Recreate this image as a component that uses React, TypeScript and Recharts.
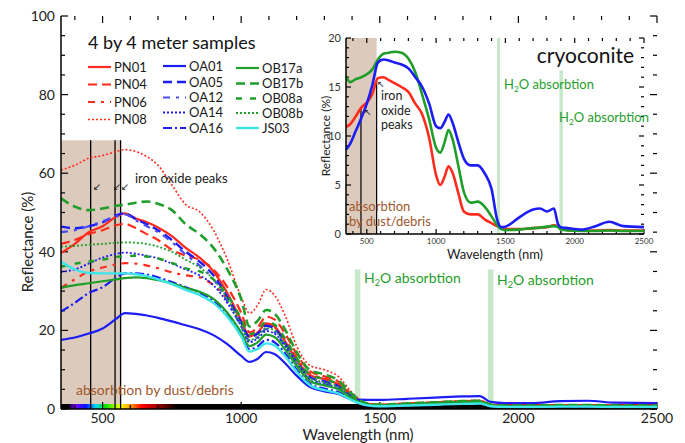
import React from "react"
import { LineChart, Line, XAxis, YAxis, ReferenceArea, ReferenceLine } from "recharts"

// wavelengths (nm) used for the 4x4 m sample spectra
const WL = [350, 400, 450, 500, 550, 580, 620, 660, 700, 750, 800, 850, 900, 950, 1000, 1030, 1060, 1090, 1120, 1160, 1200, 1250, 1300, 1350, 1400, 1450, 1500, 1600, 1700, 1800, 1860, 1900, 1950, 2050, 2150, 2250, 2350, 2500]

const PN01 = [39.7, 42, 45, 46.5, 49, 49.8, 48.5, 47.5, 46.2, 44, 41, 38.5, 35, 29.5, 22.5, 18.5, 19.5, 21.8, 21, 17, 12.5, 8.5, 7.6, 6.3, 3.2, 1.3, 1.0, 1.2, 1.5, 1.8, 1.9, 1.0, 0.8, 0.8, 0.9, 0.9, 0.8, 0.8]
const PN04 = [42, 43, 44.5, 45.5, 46.8, 47.1, 46, 44.5, 43, 40.5, 39, 38, 35.5, 31, 24.5, 19.5, 20.8, 23.5, 22.8, 19, 14, 9.5, 8.3, 7, 3.6, 1.4, 1.1, 1.4, 1.7, 2.0, 2.1, 1.1, 0.9, 0.9, 1.0, 1.0, 0.9, 0.9]
const PN06 = [30.8, 33, 35, 36, 36.8, 37.1, 37, 36.5, 35.8, 34.8, 34, 33.5, 31.5, 28, 22.5, 18.5, 19.5, 21.5, 20.8, 17.5, 13, 8.8, 7.8, 6.5, 3.4, 1.3, 1.0, 1.3, 1.6, 1.9, 2.0, 1.0, 0.8, 0.8, 0.9, 0.9, 0.8, 0.8]
const PN08 = [60.8, 62, 63.8, 64.5, 65.5, 66, 65.5, 64.2, 62, 57, 52, 50.2, 45.5, 38, 28.5, 24.4, 26.5, 30.4, 29, 23.5, 16, 11, 10, 8.3, 4.2, 1.6, 1.2, 1.5, 1.8, 2.1, 2.2, 1.2, 1.0, 1.0, 1.0, 1.0, 0.9, 0.9]
const OA01 = [17.6, 18.2, 19.2, 20.5, 23, 24.4, 24.2, 23.8, 23.2, 22.3, 21.3, 20.3, 18.8, 16.5, 13.5, 12.0, 12.8, 14.5, 14, 11.5, 8.5, 5.5, 4.5, 3.8, 2.5, 2.3, 2.3, 2.6, 2.9, 3.2, 3.3, 1.8, 1.5, 1.5, 2.0, 2.1, 1.6, 1.5]
const OA05 = [46.4, 46, 46.5, 47.5, 49.3, 49.8, 48.3, 47, 45.5, 43, 40, 37.5, 34, 28.5, 22, 18.3, 19.2, 21.2, 20.5, 16.5, 12, 8, 7, 5.8, 3, 1.2, 0.9, 1.1, 1.4, 1.7, 1.8, 0.9, 0.7, 0.7, 0.8, 0.8, 0.7, 0.7]
const OA12 = [45, 45.5, 46.5, 47.8, 49, 49.5, 48, 46.5, 45, 42.5, 39.3, 36.5, 33, 27.5, 21, 17.5, 18.3, 20.3, 19.6, 15.8, 11.5, 7.5, 6.5, 5.4, 2.8, 1.1, 0.8, 1.0, 1.3, 1.6, 1.7, 0.8, 0.6, 0.6, 0.7, 0.7, 0.6, 0.6]
const OA14 = [34.9, 35.5, 37, 38.5, 39.5, 39.8, 39.5, 39, 38.3, 37, 35.5, 34, 31.5, 27, 21, 17, 18, 19.8, 19.2, 15.8, 11.5, 7.3, 6.3, 5.2, 2.8, 1.1, 0.8, 1.0, 1.3, 1.6, 1.7, 0.8, 0.6, 0.6, 0.7, 0.7, 0.6, 0.6]
const OA16 = [24.8, 27, 29.5, 31, 33.5, 34.5, 34.5, 34.2, 33.5, 32.3, 31, 29.5, 27.5, 24, 19, 15.2, 16, 17.6, 17, 14, 10, 6.3, 5.2, 4.3, 2.3, 1.0, 0.7, 0.9, 1.2, 1.5, 1.6, 0.7, 0.5, 0.5, 0.6, 0.6, 0.5, 0.5]
const OB17a = [30.8, 31.5, 32, 32.5, 33, 33.3, 33.5, 33.3, 32.8, 32, 30.8, 29.8, 28, 24.5, 19.5, 16, 17, 18.9, 18.3, 15, 11, 7, 6, 5, 2.6, 1.1, 0.9, 1.2, 1.5, 1.8, 1.9, 0.9, 0.7, 0.7, 0.8, 0.8, 0.7, 0.7]
const OB17b = [53.6, 51.5, 50.6, 51, 51.7, 52, 52.5, 52.8, 52.2, 50.6, 47, 44.5, 41, 35.5, 28, 21, 22.5, 25.2, 24.3, 20, 14.5, 9.8, 8.8, 7.3, 3.8, 1.5, 1.1, 1.4, 1.7, 2.0, 2.1, 1.1, 0.9, 0.9, 1.0, 1.0, 0.9, 0.9]
const OB08a = [36.2, 37, 37.5, 38, 38.7, 38.9, 39, 38.8, 38.3, 37.2, 35.8, 35, 33, 29, 23, 19, 20, 22.2, 21.5, 17.8, 13, 8.7, 7.6, 6.3, 3.3, 1.3, 1.0, 1.3, 1.6, 1.9, 2.0, 1.0, 0.8, 0.8, 0.9, 0.9, 0.8, 0.8]
const OB08b = [41.3, 41.5, 41.8, 42, 42.3, 42.4, 42.3, 42, 41.3, 40, 38, 36, 33, 28, 21.5, 17.5, 18.5, 20.6, 20, 16.3, 12, 7.8, 6.8, 5.6, 2.9, 1.2, 0.9, 1.2, 1.5, 1.8, 1.9, 0.9, 0.7, 0.7, 0.8, 0.8, 0.7, 0.7]
const JS03 = [37.5, 35.5, 34.6, 34.5, 34.5, 34.5, 34.3, 33.8, 33, 31.8, 30.3, 29, 27, 23.5, 18.5, 14.6, 15.3, 16.7, 16.2, 13.3, 9.5, 6, 4.8, 4, 2.2, 1.0, 0.7, 0.9, 1.1, 1.3, 1.4, 0.7, 0.5, 0.5, 0.6, 0.6, 0.5, 0.5]

// cryoconite inset
const IWL = [350, 380, 420, 460, 500, 540, 580, 620, 660, 700, 750, 800, 850, 900, 950, 1000, 1030, 1060, 1090, 1120, 1160, 1200, 1250, 1300, 1350, 1400, 1440, 1470, 1500, 1600, 1700, 1750, 1800, 1850, 1880, 1900, 1950, 2050, 2150, 2250, 2350, 2500]
const CRYO_RED = [10.9, 11.2, 12.0, 12.9, 13.4, 14.3, 15.9, 16.0, 15.7, 15.4, 15.0, 14.5, 13.3, 12.2, 9.8, 6.0, 5.0, 5.8, 6.9, 6.2, 4.2, 2.3, 2.0, 2.0, 1.5, 1.1, 0.8, 0.6, 0.5, 0.5, 0.6, 0.65, 0.7, 0.9, 0.8, 0.5, 0.4, 0.35, 0.35, 0.4, 0.35, 0.35]
const CRYO_GREEN = [16.1, 15.5, 15.8, 16.0, 16.3, 16.8, 17.8, 18.4, 18.5, 18.6, 18.5, 17.9, 16.5, 14.2, 11.7, 8.8, 8.3, 9.3, 10.6, 9.6, 7.0, 4.3, 3.2, 3.3, 2.8, 1.8, 0.9, 0.5, 0.4, 0.45, 0.6, 0.65, 0.75, 0.8, 0.7, 0.45, 0.35, 0.3, 0.3, 0.35, 0.3, 0.3]
const CRYO_BLUE = [8.6, 9.2, 10.5, 11.8, 13.3, 15.2, 17.5, 17.8, 17.7, 17.5, 17.3, 16.9, 16.0, 15.0, 13.3, 11.0, 10.8, 11.4, 12.2, 11.3, 9.4, 7.7, 7.0, 7.0, 6.2, 4.6, 1.5, 0.7, 0.75, 1.7, 2.5, 2.6, 2.3, 2.6, 1.0, 0.7, 0.6, 0.45, 0.8, 1.25, 0.8, 0.7]

const X_TICKS = [400, 500, 600, 700, 800, 900, 1000, 1100, 1200, 1300, 1400, 1500, 1600, 1700, 1800, 1900, 2000, 2100, 2200, 2300, 2400, 2500]
const MAIN_Y_TICKS = [0, 5, 10, 15, 20, 25, 30, 35, 40, 45, 50, 55, 60, 65, 70, 75, 80, 85, 90, 95, 100]
const INSET_Y_TICKS = [0, 1, 2, 3, 4, 5, 6, 7, 8, 9, 10, 11, 12, 13, 14, 15, 16, 17, 18, 19, 20]

const FONT = "Lato, 'Open Sans', sans-serif"
const RED = "#ff2b1c"
const BLUE = "#1c1cf5"
const LBLUE = "#4d4df7"
const GREEN = "#1f9e2a"
const CYAN = "#3ee6ea"
const BROWN = "#dccbbd"
const H2O = "#c8e8cc"
const TXT_BROWN = "#a0582c"

const SERIES = [
  { key: "PN01", values: PN01, color: RED, dash: undefined, w: 2.2 },
  { key: "PN04", values: PN04, color: RED, dash: "9 5", w: 2.2 },
  { key: "PN06", values: PN06, color: RED, dash: "7 6 3 6", w: 2.2 },
  { key: "PN08", values: PN08, color: RED, dash: "2 2", w: 1.6 },
  { key: "OA01", values: OA01, color: BLUE, dash: undefined, w: 2.2 },
  { key: "OA05", values: OA05, color: BLUE, dash: "9 5", w: 2.4 },
  { key: "OA12", values: OA12, color: LBLUE, dash: "7 6 3 6", w: 2.2 },
  { key: "OA14", values: OA14, color: BLUE, dash: "2 2", w: 1.8 },
  { key: "OA16", values: OA16, color: BLUE, dash: "9 3 2 3", w: 2.2 },
  { key: "OB17a", values: OB17a, color: GREEN, dash: undefined, w: 2.2 },
  { key: "OB17b", values: OB17b, color: GREEN, dash: "9 5", w: 2.6 },
  { key: "OB08a", values: OB08a, color: GREEN, dash: "6 8", w: 2.4 },
  { key: "OB08b", values: OB08b, color: GREEN, dash: "2 2", w: 1.8 },
  { key: "JS03", values: JS03, color: CYAN, dash: undefined, w: 2.4 },
]

const mainData = WL.map((w, i) => {
  const row: Record<string, number> = { w }
  SERIES.forEach((s) => (row[s.key] = s.values[i]))
  return row
})

const insetData = IWL.map((w, i) => ({ w, red: CRYO_RED[i], green: CRYO_GREEN[i], blue: CRYO_BLUE[i] }))

const fmt500 = (v: number) => (v % 500 === 0 ? String(v) : "")
const fmt20 = (v: number) => (v % 20 === 0 ? String(v) : "")
const fmt5 = (v: number) => (v % 5 === 0 ? String(v) : "")

const axisLine = { stroke: "#000", strokeWidth: 1.5 }

// inward tick marks drawn as short segments in data units
// k: px->data factors for x and y, [x0,x1] and [y0,y1] are the domains
function frameTicks(id: string, xa: string, ya: string, xt: number[], yt: number[], xd: number[], yd: number[],
  kx: number, ky: number, majX: (v: number) => boolean, majY: (v: number) => boolean, big: number, small: number) {
  const segs: { x1: number; y1: number; x2: number; y2: number }[] = []
  yt.forEach((v) => {
    const l = (majY(v) ? big : small) * kx
    segs.push({ x1: xd[0], y1: v, x2: xd[0] + l, y2: v })
    segs.push({ x1: xd[1], y1: v, x2: xd[1] - l, y2: v })
  })
  xt.forEach((v) => {
    const l = (majX(v) ? big : small) * ky
    segs.push({ x1: v, y1: yd[0], x2: v, y2: yd[0] + l })
    segs.push({ x1: v, y1: yd[1], x2: v, y2: yd[1] - l })
  })
  return segs.map((s, i) => (
    <ReferenceLine key={id + i} xAxisId={xa} yAxisId={ya} segment={[{ x: s.x1, y: s.y1 }, { x: s.x2, y: s.y2 }]}
      stroke="#000" strokeWidth={1.2} ifOverflow="visible" />
  ))
}

const by500 = (v: number) => v % 500 === 0
const by20 = (v: number) => v % 20 === 0
const by5 = (v: number) => v % 5 === 0

function H2OLabel({ x, y, size }: { x: number; y: number; size: number }) {
  return (
    <text x={x} y={y} fill={GREEN} fontSize={size} fontFamily={FONT}>
      H<tspan dy={3} fontSize={size * 0.65}>2</tspan>
      <tspan dy={-3}>O absorbtion</tspan>
    </text>
  )
}

function LegendCol({ items, x, rows }: { items: typeof SERIES; x: number; rows: number[] }) {
  return (
    <g>
      {items.map((s, i) => (
        <g key={s.key}>
          <line x1={x} x2={x + 23} y1={rows[i]} y2={rows[i]} stroke={s.color} strokeWidth={s.w} strokeDasharray={s.dash} />
          <text x={x + 26} y={rows[i] + 4.5} fontSize={13} fontFamily={FONT} fill="#1a1a1a">
            {s.key}
          </text>
        </g>
      ))}
    </g>
  )
}

function Overlay() {
  return (
    <svg width={685} height={443} style={{ position: "absolute", left: 0, top: 0, pointerEvents: "none" }}>
      <text x={88} y={49} fontSize={18} fontFamily={FONT} fill="#111">4 by 4 meter samples</text>
      <LegendCol items={SERIES.slice(0, 4)} x={88} rows={[67, 84.5, 102, 119.5]} />
      <LegendCol items={SERIES.slice(4, 9)} x={163} rows={[66, 82, 97.5, 112.5, 128]} />
      <LegendCol items={SERIES.slice(9, 14)} x={236} rows={[68, 83.5, 98.5, 113, 128]} />

      <text transform="translate(33,242) rotate(-90)" textAnchor="middle" fontSize={15} fontFamily={FONT} fill="#222">Reflectance (%)</text>
      <text x={358} y={440} textAnchor="middle" fontSize={15} fontFamily={FONT} fill="#222">Wavelength (nm)</text>

      <text x={135} y={183} fontSize={13} fontFamily={FONT} fill="#222">iron oxide peaks</text>
      <text x={93} y={190} fontSize={10} fontFamily="DejaVu Sans" fill="#111">↙</text>
      <text x={113} y={190} fontSize={10} fontFamily="DejaVu Sans" fill="#111">↙</text>
      <text x={121} y={190} fontSize={10} fontFamily="DejaVu Sans" fill="#111">↙</text>
      <text x={76} y={395} fontSize={14} fontFamily={FONT} fill={TXT_BROWN}>absorbtion by dust/debris</text>
      <H2OLabel x={364} y={283} size={14} />
      <H2OLabel x={497} y={285} size={14} />

      <text transform="translate(330,136) rotate(-90)" textAnchor="middle" fontSize={12} fontFamily={FONT} fill="#222">Reflectance (%)</text>
      <text x={495} y={259} textAnchor="middle" fontSize={13} fontFamily={FONT} fill="#222">Wavelength (nm)</text>
      <text x={634} y={63} textAnchor="end" fontSize={21} fontFamily={FONT} fill="#111">cryoconite</text>
      <H2OLabel x={504} y={89} size={13} />
      <H2OLabel x={559} y={122} size={13} />
      <text x={381} y={100} fontSize={12.5} fontFamily={FONT} fill="#222">iron</text>
      <text x={381} y={115} fontSize={12.5} fontFamily={FONT} fill="#222">oxide</text>
      <text x={381} y={129} fontSize={12.5} fontFamily={FONT} fill="#222">peaks</text>
      <text x={364} y={115} fontSize={9} fontFamily="DejaVu Sans" fill="#111">↖</text>
      <text x={377} y={87} fontSize={9} fontFamily="DejaVu Sans" fill="#111">↖</text>
      <text x={349} y={211} fontSize={13} fontFamily={FONT} fill={TXT_BROWN}>absorbtion</text>
      <text x={349} y={226} fontSize={13} fontFamily={FONT} fill={TXT_BROWN}>by dust/debris</text>
    </svg>
  )
}

export default function App() {
  return (
    <div style={{ position: "fixed", left: 0, top: 0, width: 685, height: 443, background: "#fff", fontFamily: FONT }}>
      <LineChart width={685} height={443} data={mainData} margin={{ top: 16, right: 28, bottom: 4, left: 21 }}>
        <defs>
          <linearGradient id="spec" x1="0" y1="0" x2="1" y2="0">
            <stop offset="0" stopColor="#000" />
            <stop offset="0.012" stopColor="#000" />
            <stop offset="0.024" stopColor="#7a00ff" />
            <stop offset="0.042" stopColor="#0010ff" />
            <stop offset="0.058" stopColor="#00d8ff" />
            <stop offset="0.074" stopColor="#00e000" />
            <stop offset="0.1" stopColor="#ffff00" />
            <stop offset="0.118" stopColor="#ff9000" />
            <stop offset="0.136" stopColor="#ff0000" />
            <stop offset="0.165" stopColor="#900000" />
            <stop offset="0.195" stopColor="#000" />
            <stop offset="1" stopColor="#000" />
          </linearGradient>
        </defs>
        <XAxis xAxisId="b" dataKey="w" type="number" domain={[350, 2500]} ticks={X_TICKS} interval={0} tickFormatter={fmt500}
          tickSize={0} tickMargin={4} height={30} axisLine={axisLine} tickLine={false}
          tick={{ fontSize: 14, fill: "#222", fontFamily: FONT }} />
        <XAxis xAxisId="t" dataKey="w" orientation="top" type="number" domain={[350, 2500]} tick={false}
          height={0} axisLine={axisLine} tickLine={false} />
        <YAxis yAxisId="l" type="number" domain={[0, 100]} ticks={MAIN_Y_TICKS} interval={0} tickFormatter={fmt20}
          width={40} tickSize={0} tickMargin={6} axisLine={axisLine} tickLine={false}
          tick={{ fontSize: 14, fill: "#222", fontFamily: FONT }} />
        <YAxis yAxisId="r" orientation="right" type="number" domain={[0, 100]} tick={false}
          width={0} axisLine={axisLine} tickLine={false} />

        <ReferenceArea xAxisId="b" yAxisId="l" x1={350} x2={565} y1={0} y2={68.4} fill={BROWN} fillOpacity={1} stroke="none" />
        <ReferenceArea xAxisId="b" yAxisId="l" x1={1410} x2={1430} y1={0} y2={35.5} fill={H2O} fillOpacity={1} stroke="none" />
        <ReferenceArea xAxisId="b" yAxisId="l" x1={1890} x2={1910} y1={0} y2={35.5} fill={H2O} fillOpacity={1} stroke="none" />
        <ReferenceLine xAxisId="b" yAxisId="l" segment={[{ x: 457, y: 0 }, { x: 457, y: 68.4 }]} stroke="#000" strokeWidth={1.3} />
        <ReferenceLine xAxisId="b" yAxisId="l" segment={[{ x: 545, y: 0 }, { x: 545, y: 68.4 }]} stroke="#000" strokeWidth={1.3} />
        <ReferenceLine xAxisId="b" yAxisId="l" segment={[{ x: 565, y: 0 }, { x: 565, y: 68.4 }]} stroke="#000" strokeWidth={1.3} />
        <ReferenceArea xAxisId="b" yAxisId="l" x1={350} x2={2500} y1={0} y2={1.3} fill="url(#spec)" fillOpacity={1} stroke="none" />
        {frameTicks("m", "b", "l", X_TICKS, MAIN_Y_TICKS, [350, 2500], [0, 100], 3.607, 0.2545, by500, by20, 7, 4)}

        {SERIES.map((s) => (
          <Line key={s.key} xAxisId="b" yAxisId="l" type="monotone" dataKey={s.key} stroke={s.color} strokeWidth={s.w}
            strokeDasharray={s.dash} dot={false} isAnimationActive={false} />
        ))}
      </LineChart>

      <div style={{ position: "absolute", left: 300, top: 20 }}>
        <LineChart width={354} height={254} data={insetData} margin={{ top: 18, right: 10, bottom: 5, left: 16 }}>
          <XAxis xAxisId="ib" dataKey="w" type="number" domain={[350, 2500]} ticks={X_TICKS} interval={0} tickFormatter={fmt500}
            tickSize={0} tickMargin={4} height={35} axisLine={axisLine} tickLine={false}
            tick={{ fontSize: 8, fill: "#333", fontFamily: FONT }} />
          <XAxis xAxisId="it" dataKey="w" orientation="top" type="number" domain={[350, 2500]} tick={false}
            height={0} axisLine={axisLine} tickLine={false} />
          <YAxis yAxisId="il" type="number" domain={[0, 20]} ticks={INSET_Y_TICKS} interval={0} tickFormatter={fmt5}
            width={30} tickSize={0} tickMargin={5} axisLine={axisLine} tickLine={false}
            tick={{ fontSize: 11, fill: "#333", fontFamily: FONT }} />
          <YAxis yAxisId="ir" orientation="right" type="number" domain={[0, 20]} tick={false}
            width={0} axisLine={axisLine} tickLine={false} />

          <ReferenceArea xAxisId="ib" yAxisId="il" x1={350} x2={571} y1={0} y2={20} fill={BROWN} fillOpacity={1} stroke="none" />
          <ReferenceArea xAxisId="ib" yAxisId="il" x1={1440} x2={1462} y1={0} y2={20} fill={H2O} fillOpacity={1} stroke="none" />
          <ReferenceArea xAxisId="ib" yAxisId="il" x1={1890} x2={1915} y1={0} y2={16.7} fill={H2O} fillOpacity={1} stroke="none" />
          <ReferenceLine xAxisId="ib" yAxisId="il" segment={[{ x: 458, y: 0 }, { x: 458, y: 12.8 }]} stroke="#000" strokeWidth={1.2} />
          <ReferenceLine xAxisId="ib" yAxisId="il" segment={[{ x: 571, y: 0 }, { x: 571, y: 15.6 }]} stroke="#000" strokeWidth={1.2} />
          {frameTicks("i", "ib", "il", X_TICKS, INSET_Y_TICKS, [350, 2500], [0, 20], 7.215, 0.102, by500, by5, 5, 3)}

          <Line xAxisId="ib" yAxisId="il" type="monotone" dataKey="red" stroke={RED} strokeWidth={2.6} dot={false} isAnimationActive={false} />
          <Line xAxisId="ib" yAxisId="il" type="monotone" dataKey="green" stroke={GREEN} strokeWidth={2.6} dot={false} isAnimationActive={false} />
          <Line xAxisId="ib" yAxisId="il" type="monotone" dataKey="blue" stroke={BLUE} strokeWidth={2.6} dot={false} isAnimationActive={false} />
        </LineChart>
      </div>

      <Overlay />
    </div>
  )
}
